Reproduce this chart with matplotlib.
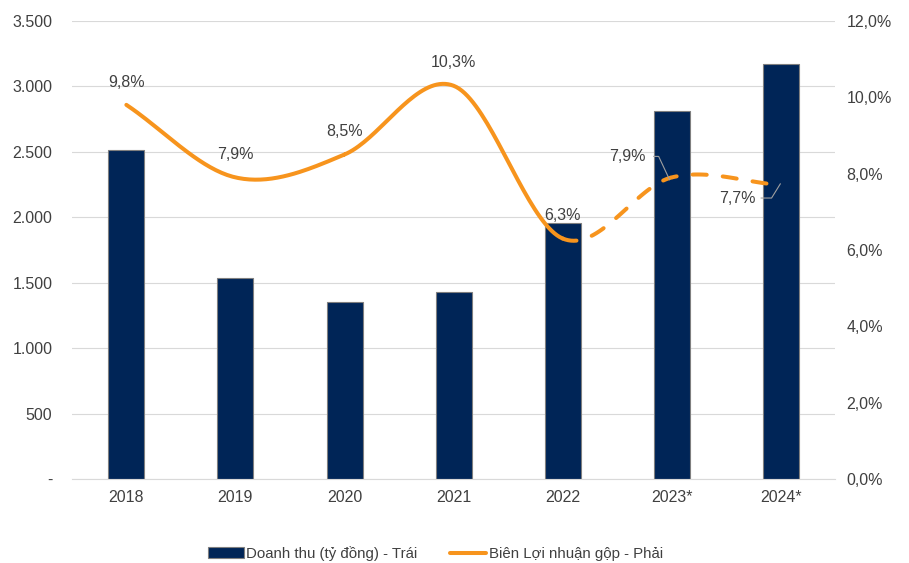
import matplotlib.pyplot as plt
import numpy as np

plt.rcParams['font.family'] = ['Liberation Sans', 'DejaVu Sans']

years = ["2018", "2019", "2020", "2021", "2022", "2023*", "2024*"]
revenue = [2514, 1536, 1353, 1429, 1956, 2812, 3171]
margin = [9.8, 7.9, 8.5, 10.3, 6.3, 7.9, 7.7]
margin_labels = ["9,8%", "7,9%", "8,5%", "10,3%", "6,3%", "7,9%", "7,7%"]

navy = "#002557"
orange = "#F7941D"
text_c = "#404040"
fs = 11.5


def smooth(xs, ys, n=40):
    # Catmull-Rom curve through the points, like Excel's smoothed line
    xs = np.asarray(xs, float)
    ys = np.asarray(ys, float)
    px = np.concatenate([[2 * xs[0] - xs[1]], xs, [2 * xs[-1] - xs[-2]]])
    py = np.concatenate([[2 * ys[0] - ys[1]], ys, [2 * ys[-1] - ys[-2]]])
    segs = []
    t = np.linspace(0, 1, n)
    for i in range(1, len(px) - 2):
        seg = []
        for p in (px, py):
            p0, p1, p2, p3 = p[i - 1], p[i], p[i + 1], p[i + 2]
            seg.append(0.5 * ((2 * p1) + (-p0 + p2) * t
                              + (2 * p0 - 5 * p1 + 4 * p2 - p3) * t ** 2
                              + (-p0 + 3 * p1 - 3 * p2 + p3) * t ** 3))
        segs.append(seg)
    return segs


fig = plt.figure(figsize=(9.09, 5.63), dpi=100)
ax = fig.add_axes([0.079, 0.149, 0.84, 0.814])
x = np.arange(len(years))

ax.bar(x, revenue, width=0.33, color=navy, edgecolor="#7f7f7f", linewidth=0.8,
       zorder=2, label="Doanh thu (tỷ đồng) - Trái")
ax.set_ylim(0, 3500)
ax.set_yticks(np.arange(0, 3501, 500))
ax.set_yticklabels(["-"] + [f"{v:,}".replace(",", ".") for v in range(500, 3501, 500)])
ax.set_xlim(-0.5, len(years) - 0.5)
ax.set_xticks(x)
ax.set_xticklabels(years)
ax.grid(axis="y", color="#d9d9d9", linewidth=0.8, zorder=0)
for s in ["top", "right", "left"]:
    ax.spines[s].set_visible(False)
ax.spines["bottom"].set_color("#d9d9d9")
ax.tick_params(axis="y", length=0, labelsize=fs, colors=text_c, pad=14)
ax.tick_params(axis="x", length=0, labelsize=fs, colors=text_c, pad=8)

ax2 = ax.twinx()
ax2.set_ylim(0, 12)
ax2.set_yticks(np.arange(0, 12.1, 2))
ax2.set_yticklabels([f"{v:.1f}%".replace(".", ",") for v in np.arange(0, 12.1, 2)])
for s in ["top", "right", "left", "bottom"]:
    ax2.spines[s].set_visible(False)
ax2.tick_params(axis="y", length=0, labelsize=fs, colors=text_c, pad=8)

segs = smooth(x, margin)
sx = np.concatenate([s[0] for s in segs[:4]])
sy = np.concatenate([s[1] for s in segs[:4]])
ax2.plot(sx, sy, color=orange, linewidth=2.9, solid_capstyle="round", zorder=3,
         label="Biên Lợi nhuận gộp - Phải")
dx = np.concatenate([s[0] for s in segs[4:]])
dy = np.concatenate([s[1] for s in segs[4:]])
ax2.plot(dx, dy, color=orange, linewidth=2.9, linestyle=(0, (3.5, 4)),
         dash_capstyle="round", zorder=3)

# data labels
for i in range(5):
    ax2.annotate(margin_labels[i], (x[i], margin[i]), xytext=(0, 11),
                 textcoords="offset points", ha="center", va="bottom",
                 fontsize=fs, color=text_c)
ax2.annotate(margin_labels[5], (x[5], margin[5]), xytext=(-19, 15),
             textcoords="offset points", ha="right", va="center",
             fontsize=fs, color=text_c)
ax2.plot([x[5] - 0.165, x[5] - 0.12, x[5] - 0.02],
         [margin[5] + 0.55, margin[5] + 0.55, margin[5] - 0.06],
         color="#a0a0a0", linewidth=0.8, zorder=4)
ax2.annotate(margin_labels[6], (x[6], margin[6]), xytext=(-18, -10),
             textcoords="offset points", ha="right", va="center",
             fontsize=fs, color=text_c)
ax2.plot([x[6] - 0.18, x[6] - 0.085, x[6] - 0.005],
         [margin[6] - 0.34, margin[6] - 0.34, margin[6] + 0.03],
         color="#a0a0a0", linewidth=0.8, zorder=4)

h1, l1 = ax.get_legend_handles_labels()
h2, l2 = ax2.get_legend_handles_labels()
fig.legend(h1 + h2, l1 + l2, loc="lower center", bbox_to_anchor=(0.479, -0.02),
           ncol=2, frameon=False, fontsize=10.8, labelcolor=text_c,
           handlelength=2.4, handletextpad=0.15, columnspacing=2.2)

fig.savefig("out.png", dpi=100)
